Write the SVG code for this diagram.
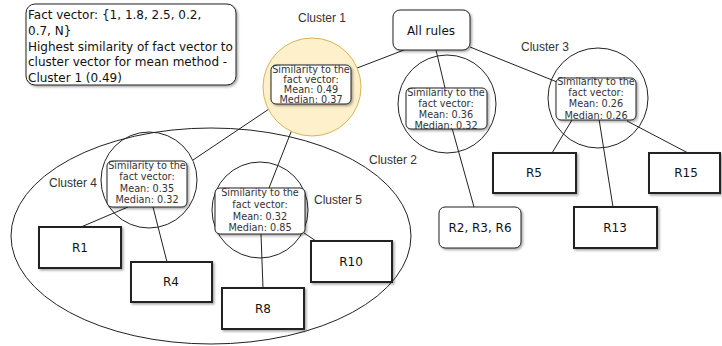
<svg xmlns="http://www.w3.org/2000/svg" width="722" height="346" viewBox="0 0 722 346">
<defs>
<filter id="sh" x="-10%" y="-10%" width="130%" height="140%">
<feDropShadow dx="1.5" dy="1.5" stdDeviation="0.8" flood-color="#000" flood-opacity="0.35"/>
</filter>
</defs>
<style>
.lbl{font-family:"Liberation Sans",Arial,sans-serif;font-size:12px;fill:#333;text-anchor:middle}
.sim{font-family:"DejaVu Sans",Verdana,sans-serif;font-size:9.7px;fill:#333;text-anchor:middle}
.rt{font-family:"DejaVu Sans",Verdana,sans-serif;font-size:12px;fill:#111;text-anchor:middle}
.circ{fill:none;stroke:#222;stroke-width:1}
.simbox{fill:#fff;stroke:#222;stroke-width:1;filter:url(#sh)}
.rbox{fill:#fff;stroke:#222;stroke-width:2;filter:url(#sh)}
.conn line{stroke:#222;stroke-width:1}
</style>
<rect width="722" height="346" fill="#fff"/>

<g id="fact">
<rect x="26" y="4" width="210" height="81" rx="9" fill="#fff" stroke="#222" stroke-width="1" filter="url(#sh)"/>
<g font-family="DejaVu Sans,Verdana,sans-serif" font-size="12px" fill="#111">
<text x="28" y="19">Fact vector: {1, 1.8, 2.5, 0.2,</text>
<text x="28" y="35">0.7, N}</text>
<text x="28" y="51">Highest similarity of fact vector to</text>
<text x="28" y="66">cluster vector for mean method -</text>
<text x="28" y="82">Cluster 1 (0.49)</text>
</g>
</g>

<g id="cluster2-ellipse">
<ellipse cx="211" cy="236" rx="200" ry="108" class="circ"/>
<text x="393" y="164" class="lbl">Cluster 2</text>
</g>

<g class="conn" id="connectors">
<line x1="404" y1="50" x2="352" y2="70"/>
<line x1="436" y1="50" x2="445" y2="88"/>
<line x1="470" y1="47" x2="557" y2="82"/>
<line x1="452" y1="128" x2="474" y2="207"/>
<line x1="572" y1="120" x2="552" y2="153"/>
<line x1="599" y1="119" x2="613" y2="207"/>
<line x1="627" y1="121" x2="688" y2="153"/>
<line x1="278" y1="103" x2="193" y2="160"/>
<line x1="302" y1="104" x2="269" y2="188"/>
<line x1="128" y1="207" x2="81" y2="227"/>
<line x1="153" y1="207" x2="167" y2="262"/>
<line x1="261" y1="234" x2="263" y2="288"/>
<line x1="304" y1="233" x2="316" y2="241"/>
</g>

<g id="allrules">
<rect x="393" y="10" width="77" height="40" rx="7" fill="#fff" stroke="#222" stroke-width="1" filter="url(#sh)"/>
<text x="431" y="35" class="rt">All rules</text>
</g>

<g id="cluster1">
<circle cx="312" cy="87" r="49" fill="#fff0cc" stroke="#d6b656" stroke-width="1"/>
<text x="322" y="22" class="lbl">Cluster 1</text>
<rect x="271" y="65" width="80" height="39" rx="5" class="simbox"/>
<text x="311" y="73" class="sim">Similarity to the</text>
<text x="311" y="83" class="sim">fact vector:</text>
<text x="311" y="93" class="sim">Mean: 0.49</text>
<text x="311" y="103" class="sim">Median: 0.37</text>
</g>

<g id="cluster2">
<circle cx="447" cy="104" r="49" class="circ"/>
<rect x="406" y="88" width="81" height="41" rx="5" class="simbox"/>
<text x="446" y="96" class="sim">Similarity to the</text>
<text x="446" y="107" class="sim">fact vector:</text>
<text x="446" y="118" class="sim">Mean: 0.36</text>
<text x="446" y="129" class="sim">Median: 0.32</text>
</g>

<g id="cluster3">
<circle cx="598" cy="98" r="50" class="circ"/>
<text x="545" y="51" class="lbl">Cluster 3</text>
<rect x="556" y="78" width="80" height="42" rx="5" class="simbox"/>
<text x="596" y="85" class="sim">Similarity to the</text>
<text x="596" y="96" class="sim">fact vector:</text>
<text x="596" y="107" class="sim">Mean: 0.26</text>
<text x="596" y="119" class="sim">Median: 0.26</text>
</g>

<g id="cluster4">
<circle cx="149" cy="180" r="48" class="circ"/>
<text x="73" y="187" class="lbl">Cluster 4</text>
<rect x="107" y="161" width="80" height="46" rx="5" class="simbox"/>
<text x="147" y="169" class="sim">Similarity to the</text>
<text x="147" y="180" class="sim">fact vector:</text>
<text x="147" y="192" class="sim">Mean: 0.35</text>
<text x="147" y="203" class="sim">Median: 0.32</text>
</g>

<g id="cluster5">
<circle cx="260" cy="210" r="48" class="circ"/>
<text x="338" y="204" class="lbl">Cluster 5</text>
<rect x="215" y="188" width="90" height="46" rx="5" class="simbox"/>
<text x="260" y="196" class="sim">Similarity to the</text>
<text x="260" y="208" class="sim">fact vector:</text>
<text x="260" y="220" class="sim">Mean: 0.32</text>
<text x="260" y="231" class="sim">Median: 0.85</text>
</g>

<g id="r1"><rect x="39" y="227" width="82" height="41" class="rbox"/><text x="80" y="252" class="rt">R1</text></g>
<g id="r4"><rect x="131" y="262" width="81" height="40" class="rbox"/><text x="171" y="286" class="rt">R4</text></g>
<g id="r8"><rect x="222" y="288" width="82" height="41" class="rbox"/><text x="263" y="313" class="rt">R8</text></g>
<g id="r10"><rect x="311" y="241" width="81" height="41" class="rbox"/><text x="351" y="266" class="rt">R10</text></g>
<g id="r236"><rect x="439" y="207" width="82" height="41" rx="6" fill="#fff" stroke="#222" stroke-width="1" filter="url(#sh)"/><text x="480" y="232" class="rt">R2, R3, R6</text></g>
<g id="r5"><rect x="493" y="153" width="83" height="40" class="rbox"/><text x="534" y="177" class="rt">R5</text></g>
<g id="r13"><rect x="574" y="207" width="83" height="41" class="rbox"/><text x="615" y="232" class="rt">R13</text></g>
<g id="r15"><rect x="649" y="153" width="71" height="40" class="rbox"/><text x="686" y="177" class="rt">R15</text></g>
</svg>
